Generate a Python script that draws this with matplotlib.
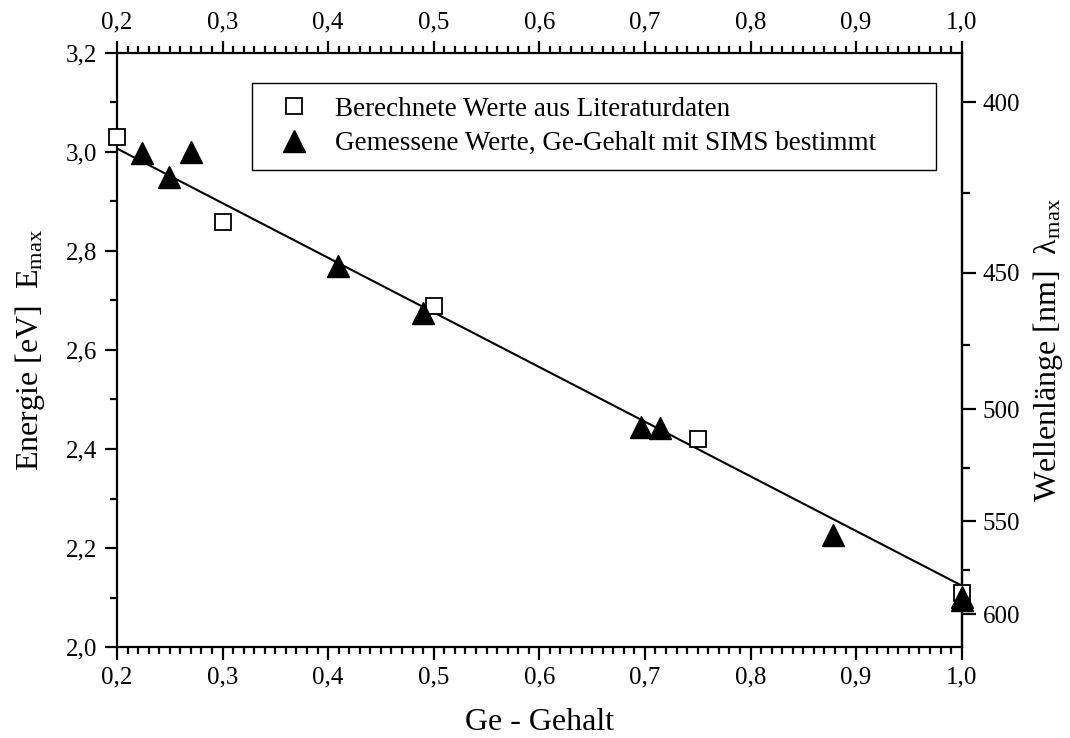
import matplotlib
matplotlib.use("Agg")
import matplotlib.pyplot as plt
from matplotlib.ticker import MultipleLocator, FixedLocator, FuncFormatter

# ---- data ----
calc_x = [0.20, 0.30, 0.50, 0.75, 1.00]
calc_y = [3.03, 2.858, 2.689, 2.42, 2.11]

meas_x = [0.224, 0.249, 0.270, 0.409, 0.490, 0.696, 0.714, 0.878, 1.000, 1.000]
meas_y = [2.997, 2.950, 2.999, 2.770, 2.674, 2.445, 2.442, 2.226, 2.102, 2.095]

fit_x = [0.20, 1.00]
fit_y = [3.007, 2.124]

wl_major = [400, 450, 500, 550, 600]
wl_minor = [425, 475, 525, 575]

label_calc = "Berechnete Werte aus Literaturdaten"
label_meas = "Gemessene Werte, Ge-Gehalt mit SIMS bestimmt"

# ---- style ----
plt.rcParams['font.family'] = ['Liberation Serif', 'DejaVu Serif']
plt.rcParams['mathtext.fontset'] = 'custom'
plt.rcParams['mathtext.rm'] = 'Liberation Serif'
plt.rcParams['mathtext.it'] = 'Liberation Serif:italic'

fig = plt.figure(figsize=(10.7, 7.38), dpi=100)
ax = fig.add_axes([0.1093, 0.1233, 0.7895, 0.8049])

comma = FuncFormatter(lambda v, p: f"{v:.1f}".replace('.', ','))

ax.plot(fit_x, fit_y, color='black', lw=1.5, zorder=2)
ax.plot(calc_x, calc_y, ls='none', marker='s', ms=11, mfc='white', mec='black',
        mew=1.3, clip_on=False, zorder=4, label=label_calc)
ax.plot(meas_x, meas_y, ls='none', marker='^', ms=15.5, mfc='black', mec='black',
        mew=1, clip_on=False, zorder=5, label=label_meas)

ax.set_xlim(0.2, 1.0)
ax.set_ylim(2.0, 3.2)
ax.xaxis.set_major_locator(MultipleLocator(0.1))
ax.xaxis.set_minor_locator(MultipleLocator(0.01))
ax.yaxis.set_major_locator(MultipleLocator(0.2))
ax.yaxis.set_minor_locator(MultipleLocator(0.1))
ax.xaxis.set_major_formatter(comma)
ax.yaxis.set_major_formatter(comma)

for s in ax.spines.values():
    s.set_linewidth(1.6)

ax.tick_params(which='both', direction='out', top=True, labeltop=True,
               right=False, labelsize=18, width=1.6)
ax.tick_params(which='major', length=9, pad=5)
ax.tick_params(which='minor', length=5)
ax.tick_params(axis='x', which='major', pad=5)

sec = ax.secondary_yaxis('right', functions=(lambda e: 1240.0 / e, lambda w: 1240.0 / w))
sec.yaxis.set_major_locator(FixedLocator(wl_major))
sec.yaxis.set_minor_locator(FixedLocator(wl_minor))
sec.yaxis.set_major_formatter(FuncFormatter(lambda v, p: f"{v:.0f}"))
sec.tick_params(which='both', direction='out', labelsize=18, width=1.6)
sec.tick_params(which='major', length=10, pad=5)
sec.tick_params(which='minor', length=6)
sec.spines['right'].set_linewidth(1.6)
sec.set_ylabel('Wellenlänge [nm]  λ$_{\\mathrm{max}}$', fontsize=23, labelpad=8)

ax.set_xlabel('Ge - Gehalt', fontsize=23, labelpad=14)
ax.set_ylabel('Energie [eV]  E$_{\\mathrm{max}}$', fontsize=23, labelpad=14)

leg = ax.legend(loc='upper left', bbox_to_anchor=(0.160, 0.9495, 0.810, 0.0),
                mode='expand', fontsize=19.5, frameon=True, fancybox=False,
                edgecolor='black', framealpha=1, borderpad=0.5,
                labelspacing=0.35, handlelength=2.1, handletextpad=0.45,
                borderaxespad=0)
leg.get_frame().set_linewidth(1.0)

fig.savefig('out.png', dpi=100)
